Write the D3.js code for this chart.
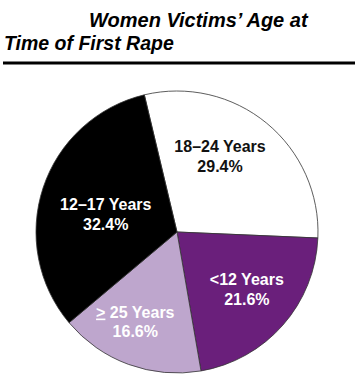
<!DOCTYPE html>
<html>
<head>
<meta charset="utf-8">
<script src="https://cdn.jsdelivr.net/npm/d3@7"></script>
<style>
  body { margin: 0; background: #fff; }
  svg { display: block; }
  text { font-family: "Liberation Sans", Arial, Helvetica, sans-serif; }
</style>
</head>
<body>
<svg id="chart" width="355" height="387"></svg>
<script>
// chart data
const categories = ["18\u201324 Years", "<12 Years", "25 Years", "12\u201317 Years"];
const values = [29.4, 21.6, 16.6, 32.4];
const valueLabels = ["29.4%", "21.6%", "16.6%", "32.4%"];
const titleLines = ["Women Victims\u2019 Age at", "Time of First Rape"];

// styling per slice
const sliceColors = ["#ffffff", "#6a1f7b", "#bea6cd", "#000000"];
const textColors = ["#111111", "#ffffff", "#ffffff", "#ffffff"];
const labelRadius = [89, 89, 97, 74];
const labelTurn = [-10.6, -3, 5.4, -2.6]; // degrees off the slice middle

const width = 355, height = 387;
const cx = 177, cy = 232, radius = 141;
const deg = Math.PI / 180;

const svg = d3.select("#chart");

// title
svg.append("text")
  .attr("x", 89).attr("y", 27)
  .attr("font-size", 20).attr("font-weight", "bold").attr("font-style", "italic")
  .attr("fill", "#000")
  .text(titleLines[0]);

svg.append("text")
  .attr("x", 4).attr("y", 50)
  .attr("font-size", 19.5).attr("font-weight", "bold").attr("font-style", "italic")
  .attr("fill", "#000")
  .text(titleLines[1]);

svg.append("line")
  .attr("x1", 3).attr("x2", 355)
  .attr("y1", 63).attr("y2", 63)
  .attr("stroke", "#000").attr("stroke-width", 3);

// pie
const pie = d3.pie().sort(null).value(d => d)
  .startAngle(-13.4 * deg)
  .endAngle(-13.4 * deg + 2 * Math.PI);

const arcs = pie(values);
const arc = d3.arc().innerRadius(0).outerRadius(radius);

const g = svg.append("g").attr("transform", `translate(${cx},${cy})`);

g.selectAll("path.slice")
  .data(arcs)
  .enter().append("path")
  .attr("class", "slice")
  .attr("d", arc)
  .attr("fill", (d, i) => sliceColors[i])
  .attr("stroke", "#333")
  .attr("stroke-width", 0.8)
  .attr("stroke-linejoin", "round");

// labels
const label = g.selectAll("g.label")
  .data(arcs)
  .enter().append("g")
  .attr("class", "label")
  .attr("transform", (d, i) => {
    const a = (d.startAngle + d.endAngle) / 2 + labelTurn[i] * deg;
    const r = labelRadius[i];
    return `translate(${Math.sin(a) * r},${-Math.cos(a) * r})`;
  });

label.each(function(d, i) {
  const t = d3.select(this).append("text")
    .attr("text-anchor", "middle")
    .attr("font-size", 16)
    .attr("font-weight", "bold")
    .attr("fill", textColors[i]);

  const line1 = t.append("tspan").attr("x", 0).attr("y", -2);
  if (i === 2) {
    line1.append("tspan").attr("text-decoration", "underline").text(">");
    line1.append("tspan").text(" " + categories[i]);
  } else {
    line1.text(categories[i]);
  }
  t.append("tspan").attr("x", 0).attr("y", 17.5).text(valueLabels[i]);
});
</script>
</body>
</html>
